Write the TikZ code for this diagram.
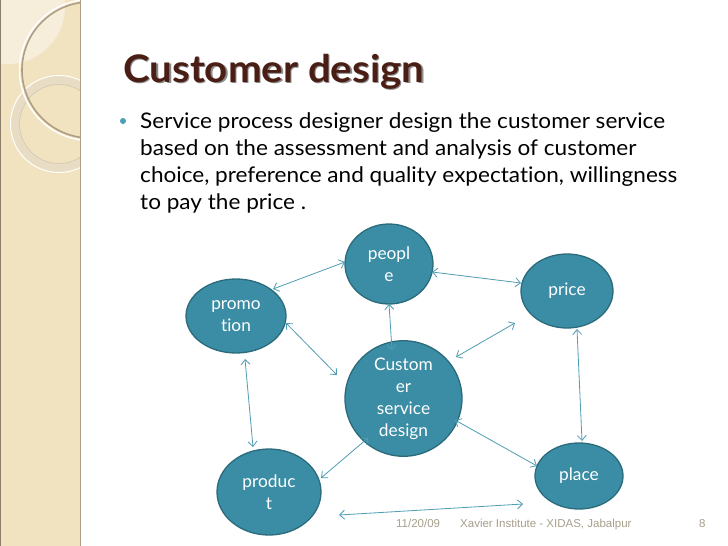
\documentclass[tikz,border=0pt]{standalone}
\usepackage{fontspec}
\usetikzlibrary{shapes.geometric,arrows.meta}
\newfontfamily\lato[Ligatures=NoCommon]{Lato}
\newfontfamily\arialf{Liberation Sans}
\definecolor{nodefill}{HTML}{3A8DA4}
\definecolor{nodedraw}{HTML}{2B6B7C}
\definecolor{arrowc}{HTML}{4F9DB3}
\definecolor{titlec}{HTML}{4A1E14}
\definecolor{panel}{HTML}{F1E3BF}
\definecolor{panellight}{HTML}{F6EEDA}
\definecolor{ringdark}{HTML}{AE9F84}
\definecolor{ringlight}{HTML}{E8DDC4}
\definecolor{footc}{HTML}{A89F8C}
\definecolor{bulletc}{HTML}{4AA0B8}
\tikzset{
  mnode/.style={ellipse, fill=nodefill, draw=nodedraw, line width=1.3pt, inner sep=0pt,
    text=white, align=center, font=\lato\fontsize{17.3}{22}\selectfont},
  conn/.style={draw=arrowc, line width=0.8pt,
    {Straight Barb[length=5pt,width=9pt]}-{Straight Barb[length=5pt,width=9pt]}},
  bodyline/.style={anchor=base west, inner sep=0pt, xscale=1.05, transform shape,
    font=\lato\fontsize{21.5}{27}\selectfont},
  titlestyle/.style={anchor=base west, inner sep=0pt, xscale=1.06, transform shape,
    font=\lato\bfseries\fontsize{38}{40}\selectfont},
  foot/.style={anchor=base west, inner sep=0pt, text=footc, font=\arialf\fontsize{11.5}{14}\selectfont}
}
\begin{document}
\begin{tikzpicture}[x=1pt,y=-1pt]
\useasboundingbox (0,0) rectangle (728,546);
\fill[white] (0,0) rectangle (728,546);
% left decorative panel
\begin{scope}
  \clip (0,0) rectangle (80,546);
  \fill[panel] (0,0) rectangle (80,546);
  \fill[panellight] (8,7) circle (57pt);
  \draw[ringlight, line width=8pt] (59,124) circle (44pt);
  \draw[white, line width=1pt] (59,124) circle (48.5pt);
  \draw[ringdark!60, line width=0.6pt] (59,124) circle (39.5pt);
  \draw[ringdark, line width=1.6pt] (90,70) circle (68pt);
  \draw[white, line width=1.4pt] (90,70) circle (70.5pt);
\end{scope}
\draw[ringdark, line width=1pt] (80.5,0) -- (80.5,546);
\draw[ringdark!80!black, line width=1.2pt] (0.6,0) -- (0.6,546);
% title
\node[titlestyle, text=black!45] (tshadow) at (124.5,83.5) {Customer design};
\node[titlestyle, text=titlec] (title) at (123,82) {Customer design};
% bullet and body
\fill[bulletc] (123,121) circle (3pt);
\node[bodyline] (l1) at (140,128) {Service process designer design the customer service};
\node[bodyline] (l2) at (140,155) {based on the assessment and analysis of customer};
\node[bodyline] (l3) at (140,182) {choice, preference and quality expectation, willingness};
\node[bodyline] (l4) at (140,209) {to pay the price .};
% nodes
\node[mnode, minimum width=88pt, minimum height=80pt] (people) at (389,264) {peopl\\e};
\node[mnode, minimum width=100pt, minimum height=74pt] (promo) at (236,316) {promo\\tion};
\node[mnode, minimum width=117pt, minimum height=91pt] (cust) at (403.5,398.5) {Custom\\er\\service\\design};
\node[mnode, minimum width=92pt, minimum height=74pt] (price) at (567,291) {price};
\node[mnode, minimum width=88pt, minimum height=66pt] (place) at (579,476) {place};
\node[mnode, minimum width=104pt, minimum height=86pt] (product) at (269,492) {produc\\t};
% connector end points
\coordinate (a1) at (273,289); \coordinate (b1) at (345,262);
\coordinate (a2) at (432,272); \coordinate (b2) at (521,283);
\coordinate (a3) at (389,304); \coordinate (b3) at (392,350);
\coordinate (a4) at (515,323); \coordinate (b4) at (456,357);
\coordinate (a5) at (286,323); \coordinate (b5) at (337,375);
\coordinate (a6) at (245,359); \coordinate (b6) at (253,447);
\coordinate (a7) at (321,478); \coordinate (b7) at (368,438);
\coordinate (a8) at (455,420); \coordinate (b8) at (537,466);
\coordinate (a9) at (577,329); \coordinate (b9) at (582,441);
\coordinate (a10) at (339,515); \coordinate (b10) at (523,504);
\draw[conn] (a1) -- (b1);
\draw[conn] (a2) -- (b2);
\draw[conn] (a3) -- (b3);
\draw[conn] (a4) -- (b4);
\draw[conn] (a5) -- (b5);
\draw[conn] (a6) -- (b6);
\draw[conn] (a7) -- (b7);
\draw[conn] (a8) -- (b8);
\draw[conn] (a9) -- (b9);
\draw[conn] (a10) -- (b10);
% footer
\node[foot] (date) at (396,527) {11/20/09};
\node[foot] (inst) at (460,527) {Xavier Institute - XIDAS, Jabalpur};
\node[foot] (num) at (699,527) {8};
\end{tikzpicture}
\end{document}
